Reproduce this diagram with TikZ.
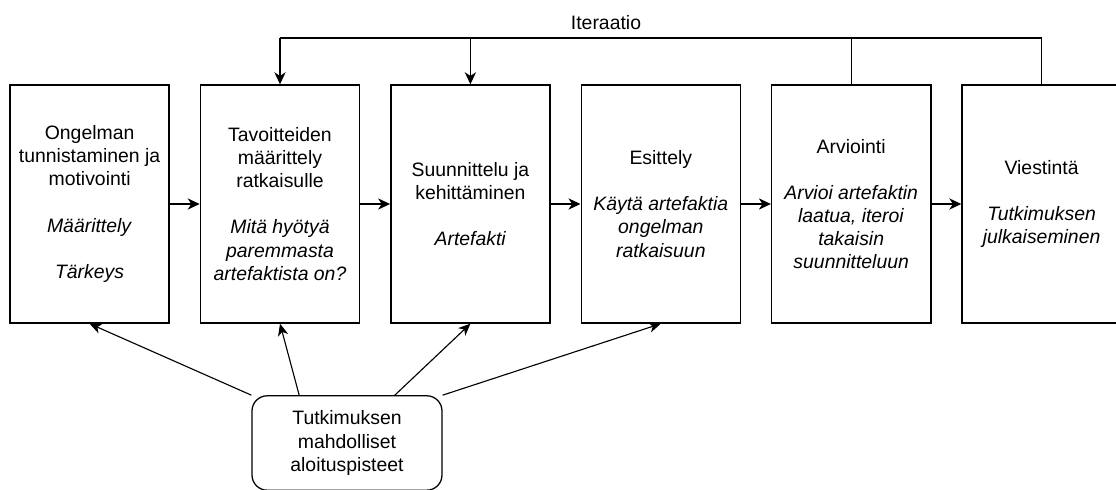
\documentclass[tikz,border=0pt]{standalone}
\usepackage{fontspec}
\setmainfont{Liberation Sans}
\usetikzlibrary{arrows.meta,calc}

\begin{document}
\begin{tikzpicture}[
    font=\fontsize{13.8}{16.4}\selectfont,
    phase/.style={draw,line width=1pt,minimum width=3.98cm,minimum height=5.95cm,align=center,inner sep=2pt},
    origin/.style={draw,line width=0.9pt,rounded corners=0.38cm,minimum width=4.75cm,minimum height=2.36cm,align=center},
    flow/.style={line width=1pt,-{Stealth[length=3mm,width=2.8mm,inset=0.9mm]}},
    entry/.style={line width=0.8pt,-{Stealth[length=3mm,width=2.6mm,inset=0.9mm]}}
  ]
  \useasboundingbox (0,0) rectangle (27.9,12.225);
  % Phases
  \node[phase] (ongelma) at (2.24,7.125) {Ongelman\\tunnistaminen ja\\motivointi\\[16.4pt]\textit{Määrittely}\\[16.4pt]\textit{Tärkeys}};
  \node[phase] (tavoite) at (7.0,7.125) {Tavoitteiden\\määrittely\\ratkaisulle\\[16.4pt]\textit{Mitä hyötyä}\\\textit{paremmasta}\\\textit{artefaktista on?}};
  \node[phase] (suunnittelu) at (11.76,7.125) {Suunnittelu ja\\kehittäminen\\[16.4pt]\textit{Artefakti}};
  \node[phase] (esittely) at (16.52,7.125) {Esittely\\[16.4pt]\textit{Käytä artefaktia}\\\textit{ongelman}\\\textit{ratkaisuun}};
  \node[phase] (arviointi) at (21.28,7.125) {Arviointi\\[16.4pt]\textit{Arvioi artefaktin}\\\textit{laatua, iteroi}\\\textit{takaisin}\\\textit{suunnitteluun}};
  \node[phase] (viestinta) at (26.04,7.125) {Viestintä\\[16.4pt]\textit{Tutkimuksen}\\\textit{julkaiseminen}};
  % Flow
  \draw[flow] (ongelma) -- (tavoite);
  \draw[flow] (tavoite) -- (suunnittelu);
  \draw[flow] (suunnittelu) -- (esittely);
  \draw[flow] (esittely) -- (arviointi);
  \draw[flow] (arviointi) -- (viestinta);
  % Iteration
  \coordinate (loop) at (0,11.28);
  \node (iter) at (15.15,11.66) {Iteraatio};
  \draw[line width=1pt] (viestinta.north) -- (viestinta.north |- loop) -- (tavoite.north |- loop);
  \draw[line width=1pt] (arviointi.north) -- (arviointi.north |- loop);
  \draw[flow] (tavoite.north |- loop) -- (tavoite.north);
  \draw[flow] (suunnittelu.north |- loop) -- (suunnittelu.north);
  % Entry points
  \node[origin] (aloitus) at (8.675,1.15) {Tutkimuksen\\mahdolliset\\aloituspisteet};
  \draw[entry] (aloitus.north west) -- (ongelma.south);
  \draw[entry] ($(aloitus.north west)!0.25!(aloitus.north east)$) -- (tavoite.south);
  \draw[entry] ($(aloitus.north west)!0.75!(aloitus.north east)$) -- (suunnittelu.south);
  \draw[entry] (aloitus.north east) -- (esittely.south);
\end{tikzpicture}
\end{document}
